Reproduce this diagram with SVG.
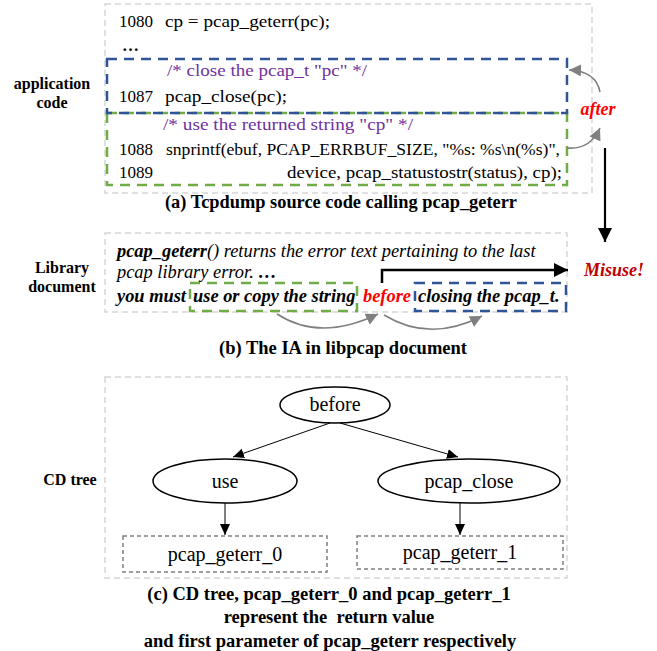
<svg xmlns="http://www.w3.org/2000/svg" width="657" height="651" viewBox="0 0 657 651">
<style>
.frame{fill:none;stroke:#d6d6d6;stroke-width:1.5;stroke-dasharray:6 4}
.blue{fill:none;stroke:#2f5597;stroke-width:2.5;stroke-dasharray:10 7}
.green{fill:none;stroke:#70ad47;stroke-width:2.5;stroke-dasharray:10 7}
.code{font-family:"Liberation Serif",serif;font-size:17px;fill:#000}
.cmt{font-family:"Liberation Serif",serif;font-size:17px;fill:#7030a0}
.lbl{font-family:"Liberation Serif",serif;font-size:16px;font-weight:bold;fill:#000;text-anchor:middle}
.cap{font-family:"Liberation Serif",serif;font-size:18.5px;font-weight:bold;fill:#000;text-anchor:middle}
.doc{font-family:"Liberation Serif",serif;font-size:18.4px;font-style:italic;fill:#000}
.node{font-family:"Liberation Serif",serif;font-size:20px;fill:#000;text-anchor:middle}
.ell{fill:#fff;stroke:#000;stroke-width:1.5}
.leaf{fill:#fff;stroke:#7f7f7f;stroke-width:1.5;stroke-dasharray:4 3}
.garc{fill:none;stroke:#808080;stroke-width:1.6}
</style>
<defs>
<marker id="ga" markerUnits="userSpaceOnUse" markerWidth="14" markerHeight="12" refX="12" refY="6" orient="auto"><path d="M0,0 L12,6 L0,12 Z" fill="#808080"/></marker>
<marker id="ba" markerUnits="userSpaceOnUse" markerWidth="16" markerHeight="14" refX="14" refY="7" orient="auto"><path d="M0,0 L14,7 L0,14 Z" fill="#000"/></marker>
<marker id="ta" markerUnits="userSpaceOnUse" markerWidth="12" markerHeight="12" refX="11" refY="5" orient="auto"><path d="M0,0 L11,5 L0,10 Z" fill="#000"/></marker>
</defs>

<g id="panel-a">
<rect class="frame" x="105" y="4" width="487" height="189"/>
<rect class="green" x="107" y="113" width="460" height="72"/>
<rect class="blue" x="107" y="59" width="460" height="54"/>
<text class="code" x="119" y="27" textLength="34" lengthAdjust="spacingAndGlyphs">1080</text>
<text class="code" x="165" y="27" textLength="165" lengthAdjust="spacingAndGlyphs">cp = pcap_geterr(pc);</text>
<text class="code" x="122" y="51" font-weight="bold">…</text>
<text class="cmt" x="167" y="76" textLength="200" lengthAdjust="spacingAndGlyphs">/* close the pcap_t "pc" */</text>
<text class="code" x="119" y="102" textLength="34" lengthAdjust="spacingAndGlyphs">1087</text>
<text class="code" x="165" y="102" textLength="122" lengthAdjust="spacingAndGlyphs">pcap_close(pc);</text>
<text class="cmt" x="163" y="130" textLength="250" lengthAdjust="spacingAndGlyphs">/* use the returned string "cp" */</text>
<text class="code" x="119" y="155" textLength="34" lengthAdjust="spacingAndGlyphs">1088</text>
<text class="code" x="166" y="155" textLength="394" lengthAdjust="spacingAndGlyphs">snprintf(ebuf, PCAP_ERRBUF_SIZE, "%s: %s\n(%s)",</text>
<text class="code" x="119" y="178" textLength="34" lengthAdjust="spacingAndGlyphs">1089</text>
<text class="code" x="287" y="178" textLength="275" lengthAdjust="spacingAndGlyphs">device, pcap_statustostr(status), cp);</text>
<text class="lbl" x="52" y="89">application</text>
<text class="lbl" x="52" y="108">code</text>
<text x="598" y="115" font-family="Liberation Serif,serif" font-size="18" font-weight="bold" font-style="italic" fill="#ff0000" text-anchor="middle">after</text>
<text class="cap" x="341" y="208" textLength="352" lengthAdjust="spacingAndGlyphs">(a) Tcpdump source code calling pcap_geterr</text>
</g>

<g id="panel-b">
<rect class="frame" x="105" y="233" width="462" height="79"/>
<rect class="green" x="190" y="283" width="167" height="28"/>
<rect class="blue" x="415" y="283" width="151" height="28"/>
<text class="doc" x="117" y="257"><tspan font-weight="bold">pcap_geterr</tspan>() returns the error text pertaining to the last</text>
<text class="doc" x="117" y="278">pcap library error. <tspan font-weight="bold">…</tspan></text>
<text class="doc" y="302" font-weight="bold" font-size="17.6"><tspan x="117">you must</tspan><tspan x="193">use or copy the string</tspan><tspan x="363" fill="#ff0000">before</tspan><tspan x="418">closing the pcap_t.</tspan></text>
<text class="lbl" x="62" y="273">Library</text>
<text class="lbl" x="62" y="292">document</text>
<text x="584" y="276" font-family="Liberation Serif,serif" font-size="18" font-weight="bold" font-style="italic" fill="#c00000">Misuse!</text>
<text class="cap" x="343" y="354">(b) The IA in libpcap document</text>
</g>

<g id="panel-c">
<rect class="frame" x="105" y="377" width="462" height="201"/>
<text class="lbl" x="70" y="485">CD tree</text>
<text class="cap" x="329" y="600">(c) CD tree, pcap_geterr_0 and pcap_geterr_1</text>
<text class="cap" x="329" y="623" xml:space="preserve">represent the  return value</text>
<text class="cap" x="330" y="647">and first parameter of pcap_geterr respectively</text>
</g>

<g id="node-before">
<ellipse class="ell" cx="335" cy="405" rx="55" ry="18"/>
<text class="node" x="335" y="411">before</text>
</g>
<g id="node-use">
<ellipse class="ell" cx="225" cy="481" rx="72" ry="22"/>
<text class="node" x="225" y="488">use</text>
</g>
<g id="node-pcap_close">
<ellipse class="ell" cx="469" cy="481" rx="91" ry="22"/>
<text class="node" x="469" y="488">pcap_close</text>
</g>
<g id="node-pcap_geterr_0">
<rect class="leaf" x="123" y="536" width="204" height="36"/>
<text class="node" x="225" y="561">pcap_geterr_0</text>
</g>
<g id="node-pcap_geterr_1">
<rect class="leaf" x="357" y="536" width="206" height="33"/>
<text class="node" x="460" y="559">pcap_geterr_1</text>
</g>

<g id="connectors">
<path class="garc" d="M600,92 Q596,71 569,70" marker-end="url(#ga)"/>
<path class="garc" d="M567,148 Q590,150 600,128" marker-end="url(#ga)"/>
<line x1="605" y1="148" x2="605" y2="242" stroke="#000" stroke-width="2.2" marker-end="url(#ba)"/>
<polyline points="382,283 382,270 568,270" fill="none" stroke="#000" stroke-width="2.5" marker-end="url(#ba)"/>
<path class="garc" d="M277,314 Q320,342 378,314" marker-end="url(#ga)"/>
<path class="garc" d="M384,315 Q430,343 482,316" marker-end="url(#ga)"/>
<line x1="330" y1="423" x2="233" y2="457" stroke="#000" stroke-width="1" marker-end="url(#ta)"/>
<line x1="340" y1="423" x2="458" y2="457" stroke="#000" stroke-width="1" marker-end="url(#ta)"/>
<line x1="225" y1="503" x2="225" y2="535" stroke="#000" stroke-width="1" marker-end="url(#ta)"/>
<line x1="460" y1="503" x2="460" y2="535" stroke="#000" stroke-width="1" marker-end="url(#ta)"/>
</g>
</svg>
